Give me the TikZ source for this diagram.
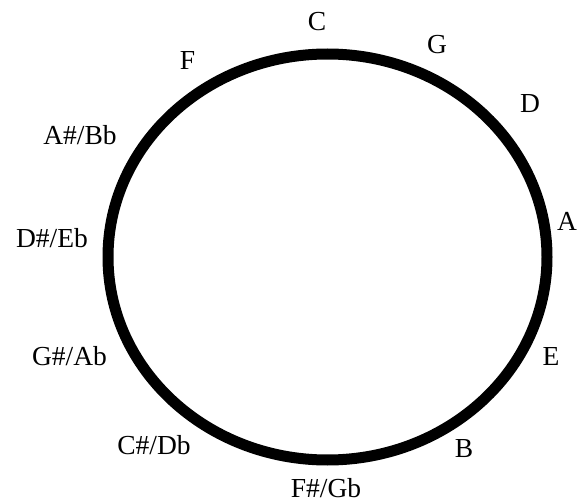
\documentclass[tikz,border=0pt]{standalone}
\usepackage{fontspec}
\setmainfont{Liberation Serif}
\begin{document}
\begin{tikzpicture}[x=1pt,y=-1pt,
  note/.style={anchor=base,inner sep=0pt,font=\fontsize{27.5}{31}\selectfont},
  wheel/.style={line width=11pt,draw=black}]
\useasboundingbox (0,0) rectangle (579,503);
\draw[wheel] (327.5,257) ellipse [x radius=219.5pt, y radius=203pt];
\node[note] (C)   at (317,31)  {C};
\node[note] (G)   at (437,54)  {G};
\node[note] (D)   at (530,113) {D};
\node[note] (A)   at (567,230) {A};
\node[note] (E)   at (551,365) {E};
\node[note] (B)   at (464,457) {B};
\node[note] (Fs)  at (326,497) {F\#/Gb};
\node[note] (Cs)  at (154,454) {C\#/Db};
\node[note] (Gs)  at (69.5,365) {G\#/Ab};
\node[note] (Ds)  at (52,247)  {D\#/Eb};
\node[note] (As)  at (80,145)  {A\#/Bb};
\node[note] (F)   at (187.5,70) {F};
\end{tikzpicture}
\end{document}
